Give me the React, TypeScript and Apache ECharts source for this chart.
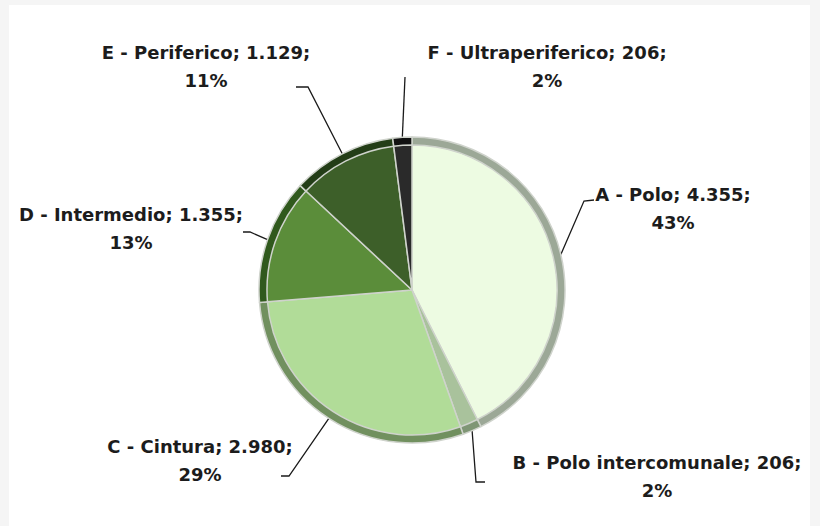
import React, { useEffect, useRef } from "react";
import * as echarts from "echarts";

const categories = [
  "A - Polo",
  "B - Polo intercomunale",
  "C - Cintura",
  "D - Intermedio",
  "E - Periferico",
  "F - Ultraperiferico",
];
const values = [4355, 206, 2980, 1355, 1129, 206];

const fillColors = ["#edfbe2", "#a9c29c", "#b1dc98", "#5b8d3a", "#3d5f29", "#2a2a2a"];
const rimColors = ["#9ca897", "#7f9675", "#71905f", "#30591d", "#233d17", "#111111"];

// label block centres and leader-line bends (layout only)
const labelAnchors = [
  [673, 208],
  [657, 476],
  [200, 460],
  [131, 228],
  [206, 66],
  [547, 66],
];
const leaderBends = [
  [[584, 201], [594, 200]],
  [[476, 482], [485, 482]],
  [[289, 476], [281, 476]],
  [[250, 232], [243, 232]],
  [[308, 87], [296, 87]],
  [[405, 77], [405, 77]],
];

const fmt = (n: number) => String(n).replace(/\B(?=(\d{3})+(?!\d))/g, ".");

export default function App() {
  const ref = useRef<HTMLDivElement>(null);
  useEffect(() => {
    if (!ref.current) return;
    const chart = echarts.init(ref.current, null, { renderer: "svg" });
    const center = [412, 290];
    const R = 153;
    chart.setOption({
      animation: false,
      backgroundColor: "#f5f5f5",
      graphic: [
        {
          type: "rect",
          shape: { x: 9, y: 5, width: 801, height: 530 },
          style: { fill: "#ffffff" },
          z: -10,
        },
      ],
      series: [
        {
          type: "pie",
          center,
          radius: [0, R],
          startAngle: 90,
          clockwise: true,
          avoidLabelOverlap: false,
          data: categories.map((c, i) => ({
            name: c,
            value: values[i],
            itemStyle: { color: rimColors[i] },
          })),
          itemStyle: { borderColor: "#cfd3cc", borderWidth: 1.5 },
          label: {
            show: true,
            formatter: (p: any) =>
              `${p.name}; ${fmt(p.value)};\n${Math.round(p.percent)}%`,
            fontFamily: "DejaVu Sans",
            fontWeight: "bold",
            fontSize: 18,
            lineHeight: 28,
            color: "#1c1c1c",
          },
          labelLine: {
            show: true,
            length: 20,
            length2: 10,
            lineStyle: { color: "#1a1a1a", width: 1.3 },
          },
          labelLayout: (params: any) => {
            const i = params.dataIndex;
            const pts = params.labelLinePoints;
            const start = pts && pts[0] ? pts[0] : [center[0], center[1]];
            return {
              x: labelAnchors[i][0],
              y: labelAnchors[i][1],
              align: "center",
              verticalAlign: "middle",
              labelLinePoints: [start, leaderBends[i][0], leaderBends[i][1]],
            };
          },
          emphasis: { disabled: true },
        },
        {
          type: "pie",
          center,
          radius: [0, R - 8],
          startAngle: 90,
          clockwise: true,
          silent: true,
          data: categories.map((c, i) => ({
            name: c,
            value: values[i],
            itemStyle: { color: fillColors[i] },
          })),
          itemStyle: { borderColor: "#cfd3cc", borderWidth: 1.5 },
          label: { show: false },
          labelLine: { show: false },
          emphasis: { disabled: true },
        },
      ],
    });
    return () => chart.dispose();
  }, []);
  return (
    <div
      ref={ref}
      style={{ position: "absolute", left: 0, top: 0, width: 820, height: 526 }}
    />
  );
}
